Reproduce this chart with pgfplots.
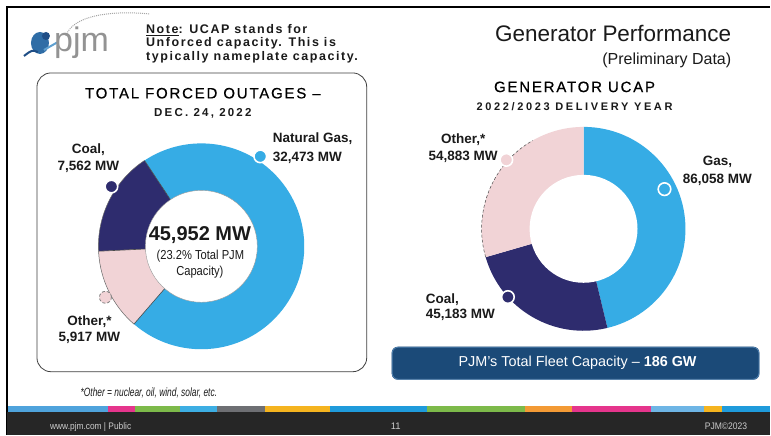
\documentclass[border=0pt]{standalone}
\usepackage{fontspec}
\setmainfont{Liberation Sans}
\usepackage{pgfplots}
\pgfplotsset{compat=1.18}
\usetikzlibrary{calc}

\definecolor{gasblue}{HTML}{36ACE5}
\definecolor{coalnavy}{HTML}{2E2C6E}
\definecolor{otherpink}{HTML}{F1D3D6}
\definecolor{banner}{HTML}{1B4A78}
\definecolor{bannerline}{HTML}{4F7FAD}
\definecolor{footdark}{HTML}{262626}
\definecolor{txt}{HTML}{1A1A1A}
\definecolor{logoA}{HTML}{2F6DA6}
\definecolor{logoB}{HTML}{1F4E86}
\definecolor{logoC}{HTML}{5FA0D0}
\definecolor{fA}{HTML}{4FA3DC}
\definecolor{fB}{HTML}{E5358C}
\definecolor{fC}{HTML}{7DBA4A}
\definecolor{fD}{HTML}{3DAEE3}
\definecolor{fE}{HTML}{6E6F73}
\definecolor{fF}{HTML}{F5B41F}
\definecolor{fG}{HTML}{1F9BDB}
\definecolor{fH}{HTML}{F39A35}
\definecolor{fI}{HTML}{6EB5E5}

% ---- data (MW) ----
\def\LCoal{7562}  \def\LOther{5917}  \def\LGas{32473}
\def\RGas{86058}  \def\RCoal{45183}  \def\ROther{54883}

% ---- angles ----
\edef\LTot{\fpeval{\LCoal+\LOther+\LGas}}
\def\LStart{123.5}
\edef\LA{\fpeval{\LStart+360*\LCoal/\LTot}}
\edef\LB{\fpeval{\LA+360*\LOther/\LTot}}
\edef\LC{\fpeval{\LStart+360}}
\edef\RTot{\fpeval{\RGas+\RCoal+\ROther}}
\def\RStart{90}
\edef\RA{\fpeval{\RStart-360*\RGas/\RTot}}
\edef\RB{\fpeval{\RA-360*\RCoal/\RTot}}
\edef\RC{\fpeval{\RStart-360}}

\newcommand{\donutwedge}[6]{\fill[#6] (axis cs:#1,#2) -- ++(#4:#3pt) arc[start angle=#4,end angle=#5,radius=#3pt] -- cycle;}
\newcommand{\notefont}{\bfseries\fontsize{12.5}{14}\selectfont\addfontfeatures{LetterSpace=12.5}}

\begin{document}
\begin{tikzpicture}
\begin{axis}[width=771pt,height=435pt,scale only axis,
  xmin=0,xmax=771,ymin=0,ymax=435,y dir=reverse,hide axis,clip=false]
% background
\fill[white] (axis cs:0,0) rectangle (axis cs:771,435);
% frame
\draw[black,line width=1.2pt] (axis cs:7,435) -- (axis cs:7,7) -- (axis cs:771,7);

% logo
\draw[gray!70,densely dotted,line width=1pt] (axis cs:66,36) .. controls (axis cs:72,16) and (axis cs:110,10) .. (axis cs:150,14);
\fill[logoA] (axis cs:40,43) ellipse[x radius=9pt,y radius=11pt];
\fill[logoB] (axis cs:46,36) circle[radius=4pt];
\draw[logoB,line width=2pt] (axis cs:24,56) .. controls (axis cs:32,50) .. (axis cs:38,52);
\draw[logoC,line width=2pt] (axis cs:44,50) -- (axis cs:58,42);
\node[anchor=west,inner sep=0,text=gray!85,font=\fontsize{34}{34}\selectfont] at (axis cs:54,43) {pjm};

% note
\node[anchor=west,inner sep=0,text=txt,font=\notefont] at (axis cs:146,30) {\underline{Note}: UCAP stands for};
\node[anchor=west,inner sep=0,text=txt,font=\notefont] at (axis cs:146,43.5) {Unforced capacity. This is};
\node[anchor=west,inner sep=0,text=txt,font=\notefont] at (axis cs:146,57.3) {typically nameplate capacity.};

% main title
\node[anchor=east,inner sep=0,text=txt,font=\fontsize{22.5}{24}\selectfont] at (axis cs:732,34) {Generator Performance};
\node[anchor=east,inner sep=0,text=txt,font=\fontsize{16}{18}\selectfont] at (axis cs:732,60) {(Preliminary Data)};

% left box
\draw[black!75,line width=0.8pt,rounded corners=14pt] (axis cs:37,73) rectangle (axis cs:367,372);
\node[inner sep=0,text=black,font=\fontsize{15}{18}\selectfont\addfontfeatures{LetterSpace=12,FakeBold=0.5}] at (axis cs:203,93.3) {TOTAL FORCED OUTAGES –};
\node[inner sep=0,text=txt,font=\bfseries\fontsize{11.5}{14}\selectfont\addfontfeatures{LetterSpace=19}] at (axis cs:203,113.3) {DEC. 24, 2022};

% left donut
\donutwedge{201.5}{246.5}{103}{\LStart}{\LA}{coalnavy}
\donutwedge{201.5}{246.5}{103}{\LA}{\LB}{otherpink}
\donutwedge{201.5}{246.5}{103}{\LB}{\LC}{gasblue}
\fill[white] (axis cs:201.5,246.5) circle[radius=56pt];
\draw[black!70,line width=0.6pt] (axis cs:201.5,246.5) ++(\LStart:56pt) -- ++(\LStart:47pt);
\draw[black!70,line width=0.6pt] (axis cs:201.5,246.5) ++(\LA:56pt) -- ++(\LA:47pt);
\draw[black!70,line width=0.6pt] (axis cs:201.5,246.5) ++(\LB:56pt) -- ++(\LB:47pt);
\draw[black!60,line width=0.5pt] (axis cs:201.5,246.5) ++(\LStart:103pt) arc[start angle=\LStart,end angle=\LB,radius=103pt];
\draw[black!40,line width=0.4pt] (axis cs:201.5,246.5) circle[radius=56pt];

\node[inner sep=0,text=txt,font=\bfseries\fontsize{20}{22}\selectfont] at (axis cs:200,235) {45,952 MW};
\node[inner sep=0,text=txt,font=\fontsize{13}{15}\selectfont] at (axis cs:200.5,256.5) {\scalebox{0.86}[1]{(23.2\% Total PJM}};
\node[inner sep=0,text=txt,font=\fontsize{13}{15}\selectfont] at (axis cs:200,272.5) {\scalebox{0.86}[1]{Capacity)}};

\addplot[only marks,mark=*,mark size=6.3pt,mark options={fill=gasblue,draw=white,line width=1.6pt}] coordinates {(260.5,156.5)};
\addplot[only marks,mark=*,mark size=6.3pt,mark options={fill=coalnavy,draw=white,line width=1.6pt}] coordinates {(111.5,186.7)};
\addplot[only marks,mark=*,mark size=6pt,mark options={fill=otherpink,draw=gray,densely dashed,line width=0.8pt}] coordinates {(105.5,297.5)};

\node[anchor=west,align=left,inner sep=0,text=txt,font=\bfseries\fontsize{13.5}{19}\selectfont] at (axis cs:273,148) {Natural Gas,\\32,473 MW};
\node[align=center,inner sep=0,text=txt,font=\bfseries\fontsize{13.5}{17.4}\selectfont] at (axis cs:88.5,158) {Coal,\\7,562 MW};
\node[align=center,inner sep=0,text=txt,font=\bfseries\fontsize{13.5}{16.6}\selectfont] at (axis cs:89.5,330) {Other,*\\5,917 MW};

\node[inner sep=0,text=txt,font=\itshape\fontsize{12}{14}\selectfont] at (axis cs:149,393) {\scalebox{0.7}[1]{*Other = nuclear, oil, wind, solar, etc.}};

% right titles
\node[inner sep=0,text=black,font=\fontsize{15}{18}\selectfont\addfontfeatures{LetterSpace=12,FakeBold=0.5}] at (axis cs:575,87) {GENERATOR UCAP};
\node[inner sep=0,text=txt,font=\bfseries\fontsize{11}{13}\selectfont\addfontfeatures{LetterSpace=24}] at (axis cs:575,107) {2022/2023 DELIVERY YEAR};

% right donut
\donutwedge{584}{229}{102}{\RStart}{\RA}{gasblue}
\donutwedge{584}{229}{102}{\RA}{\RB}{coalnavy}
\donutwedge{584}{229}{102}{\RB}{\RC}{otherpink}
\fill[white] (axis cs:584,229) circle[radius=54pt];
\draw[black!70,line width=0.5pt,densely dashed] (axis cs:584,229) ++(\RB:102pt) arc[start angle=\RB,end angle=-240,radius=102pt];

\addplot[only marks,mark=*,mark size=6.3pt,mark options={fill=otherpink,draw=white,line width=1.6pt}] coordinates {(506.7,160)};
\addplot[only marks,mark=*,mark size=6.3pt,mark options={fill=gasblue,draw=white,line width=1.6pt}] coordinates {(665,189.3)};
\addplot[only marks,mark=*,mark size=6.3pt,mark options={fill=coalnavy,draw=white,line width=1.6pt}] coordinates {(508.3,297.3)};

\node[align=center,inner sep=0,text=txt,font=\bfseries\fontsize{13.5}{16.6}\selectfont] at (axis cs:463.5,148) {Other,*\\54,883 MW};
\node[align=center,inner sep=0,text=txt,font=\bfseries\fontsize{13.5}{18.3}\selectfont] at (axis cs:718,171) {Gas,\\86,058 MW};
\node[anchor=west,align=left,inner sep=0,text=txt,font=\bfseries\fontsize{13.5}{15.5}\selectfont] at (axis cs:426,307.5) {Coal,\\45,183 MW};

% banner
\fill[banner,rounded corners=6pt] (axis cs:392,347) rectangle (axis cs:760,380);
\draw[bannerline,line width=0.8pt,rounded corners=6pt] (axis cs:392.5,347.5) rectangle (axis cs:759.5,379.5);
\node[inner sep=0,text=white,font=\fontsize{14.4}{16}\selectfont] at (axis cs:578,363) {PJM's Total Fleet Capacity – \textbf{186 GW}};

% footer strip
\fill[footdark] (axis cs:7,412) rectangle (axis cs:771,435);
\fill[fA] (axis cs:8,406.5) rectangle (axis cs:108,412);
\fill[fB] (axis cs:108,406.5) rectangle (axis cs:135,412);
\fill[fC] (axis cs:135,406.5) rectangle (axis cs:180,412);
\fill[fD] (axis cs:180,406.5) rectangle (axis cs:217,412);
\fill[fE] (axis cs:217,406.5) rectangle (axis cs:265,412);
\fill[fF] (axis cs:265,406.5) rectangle (axis cs:330,412);
\fill[fG] (axis cs:330,406.5) rectangle (axis cs:427,412);
\fill[fC] (axis cs:427,406.5) rectangle (axis cs:525,412);
\fill[fH] (axis cs:525,406.5) rectangle (axis cs:572,412);
\fill[fB] (axis cs:572,406.5) rectangle (axis cs:652,412);
\fill[fI] (axis cs:652,406.5) rectangle (axis cs:705,412);
\fill[fF] (axis cs:705,406.5) rectangle (axis cs:723,412);
\fill[fG] (axis cs:723,406.5) rectangle (axis cs:771,412);
\node[anchor=west,inner sep=0,text=black!20,font=\fontsize{9.5}{10}\selectfont] at (axis cs:50,427) {\scalebox{0.88}[1]{www.pjm.com | Public}};
\node[anchor=west,inner sep=0,text=black!20,font=\fontsize{9.5}{10}\selectfont] at (axis cs:391,427) {11};
\node[anchor=east,inner sep=0,text=black!20,font=\fontsize{9.5}{10}\selectfont] at (axis cs:748,427) {\scalebox{0.9}[1]{PJM©2023}};
\end{axis}
\end{tikzpicture}
\end{document}
